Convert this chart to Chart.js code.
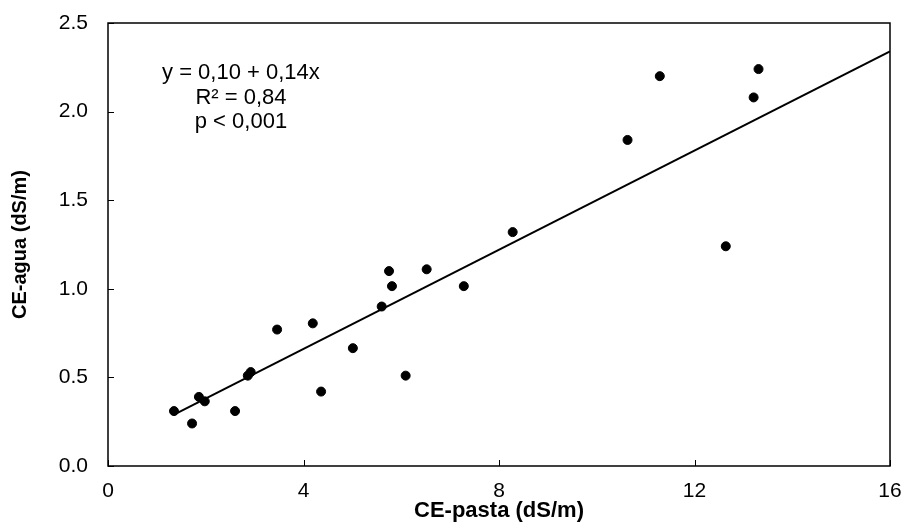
<!DOCTYPE html>
<html>
<head>
<meta charset="utf-8">
<script src="https://cdn.jsdelivr.net/npm/chart.js@4/dist/chart.umd.min.js"></script>
<style>
  html, body { margin: 0; padding: 0; background: #fff; }
  #wrap { width: 906px; height: 528px; }
</style>
</head>
<body>
<div id="wrap"><canvas id="chart"></canvas></div>
<script>
// CE-pasta vs CE-agua
const cePasta = [1.35, 1.72, 1.86, 1.98, 2.6, 2.86, 2.92, 3.46, 4.19, 4.36, 5.01, 5.6, 5.75, 5.81, 6.09, 6.52, 7.28, 8.28, 10.63, 11.29, 12.64, 13.21, 13.31];
const ceAgua = [0.31, 0.24, 0.39, 0.365, 0.31, 0.51, 0.53, 0.77, 0.805, 0.42, 0.665, 0.9, 1.1, 1.015, 0.51, 1.11, 1.015, 1.32, 1.84, 2.2, 1.24, 2.08, 2.24];

// fitted line end points
const fitX = [1.35, 16];
const fitY = [0.29, 2.34];

const xTicks = [0, 4, 8, 12, 16];
const yTicks = [0, 0.5, 1, 1.5, 2, 2.5];

const statLines = ["y = 0,10 + 0,14x", "R² = 0,84", "p < 0,001"];

const fontFam = "'Liberation Sans', Arial, sans-serif";

const noPad = (s) => {
  s.paddingTop = 0;
  s.paddingBottom = 0;
  s.paddingLeft = 0;
  s.paddingRight = 0;
};

const frame = {
  id: "frame",
  afterDraw(chart) {
    const { ctx, chartArea: a, scales } = chart;
    ctx.save();
    ctx.strokeStyle = "#000";
    ctx.lineWidth = 1.5;
    ctx.strokeRect(a.left, a.top, a.right - a.left, a.bottom - a.top);
    ctx.lineWidth = 1;
    ctx.beginPath();
    xTicks.forEach((v) => {
      const px = Math.round(scales.x.getPixelForValue(v)) + 0.5;
      ctx.moveTo(px, a.bottom);
      ctx.lineTo(px, a.bottom - 6);
    });
    yTicks.forEach((v) => {
      const py = Math.round(scales.y.getPixelForValue(v)) + 0.5;
      ctx.moveTo(a.left, py);
      ctx.lineTo(a.left + 6, py);
    });
    ctx.stroke();

    // regression text
    ctx.fillStyle = "#000";
    ctx.font = "22px " + fontFam;
    ctx.textAlign = "center";
    ctx.textBaseline = "middle";
    const cx = scales.x.getPixelForValue(2.72);
    const rows = [2.22, 2.075, 1.94];
    statLines.forEach((t, i) => {
      ctx.fillText(t, cx, scales.y.getPixelForValue(rows[i]));
    });
    ctx.restore();
  },
};

new Chart(document.getElementById("chart"), {
  type: "scatter",
  data: {
    datasets: [
      {
        label: "datos",
        data: cePasta.map((x, i) => ({ x: x, y: ceAgua[i] })),
        backgroundColor: "#000",
        borderColor: "#000",
        pointRadius: 4.5,
        pointHoverRadius: 4.5,
      },
      {
        label: "ajuste",
        type: "line",
        data: fitX.map((x, i) => ({ x: x, y: fitY[i] })),
        borderColor: "#000",
        borderWidth: 2,
        pointRadius: 0,
        fill: false,
      },
    ],
  },
  options: {
    responsive: true,
    maintainAspectRatio: false,
    animation: false,
    layout: { padding: { top: 23, right: 16, left: 0, bottom: 0 } },
    plugins: {
      legend: { display: false },
      tooltip: { enabled: false },
    },
    scales: {
      x: {
        type: "linear",
        min: 0,
        max: 16,
        afterFit: (s) => { s.height = 62; noPad(s); },
        afterBuildTicks: (s) => { s.ticks = xTicks.map((v) => ({ value: v })); },
        grid: { display: false, drawTicks: false },
        border: { display: false },
        ticks: {
          color: "#000",
          padding: 13,
          maxRotation: 0,
          font: { family: fontFam, size: 21 },
        },
        title: {
          display: true,
          text: "CE-pasta (dS/m)",
          color: "#000",
          font: { family: fontFam, size: 22, weight: "bold" },
          padding: { top: 0, bottom: 4 },
        },
      },
      y: {
        type: "linear",
        min: 0,
        max: 2.5,
        afterFit: (s) => { s.width = 108; noPad(s); },
        afterBuildTicks: (s) => { s.ticks = yTicks.map((v) => ({ value: v })); },
        grid: { display: false, drawTicks: false },
        border: { display: false },
        ticks: {
          color: "#000",
          padding: 20,
          font: { family: fontFam, size: 21 },
          callback: (v) => v.toFixed(1),
        },
        title: {
          display: true,
          text: "CE-agua (dS/m)",
          color: "#000",
          font: { family: fontFam, size: 20, weight: "bold" },
          padding: { top: 8, bottom: 0 },
        },
      },
    },
  },
  plugins: [frame],
});
</script>
</body>
</html>
